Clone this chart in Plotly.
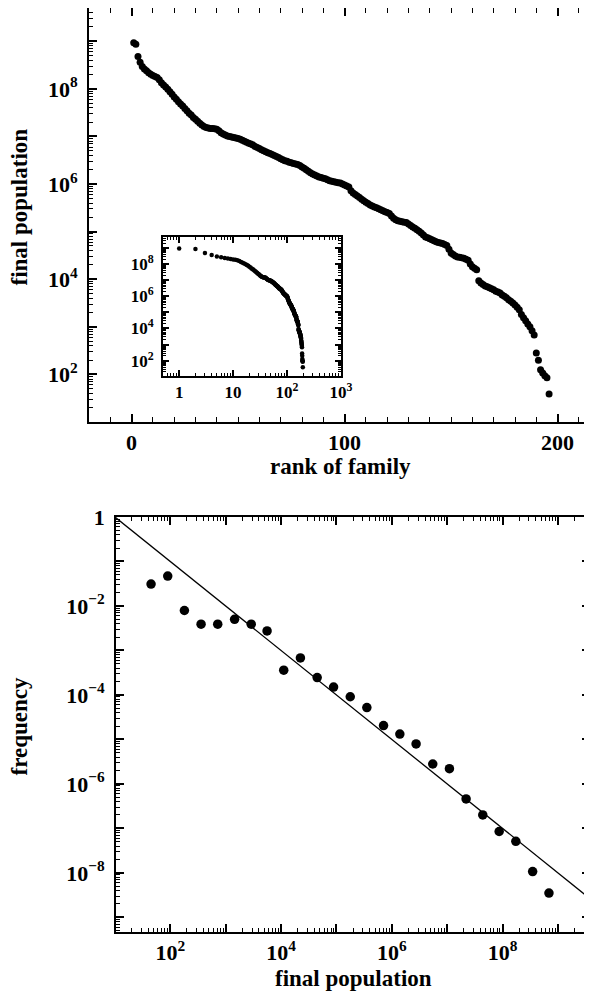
import plotly.graph_objects as go

# ---------------- data ----------------
# top panel: final population of each family (log10 values) vs rank
rank = list(range(1, 197))
final_pop_log10 = [
    8.97, 8.94, 8.68, 8.56, 8.47, 8.42, 8.38, 8.34, 8.31, 8.28,
    8.26, 8.24, 8.19, 8.13, 8.08, 8.04, 7.99, 7.94, 7.89, 7.83,
    7.78, 7.73, 7.68, 7.64, 7.59, 7.54, 7.49, 7.45, 7.40, 7.36,
    7.32, 7.28, 7.24, 7.21, 7.19, 7.18, 7.17, 7.17, 7.16, 7.15,
    7.12, 7.08, 7.05, 7.03, 7.01, 7.00, 6.99, 6.98, 6.97, 6.96,
    6.94, 6.92, 6.90, 6.88, 6.86, 6.84, 6.82, 6.79, 6.77, 6.75,
    6.72, 6.70, 6.68, 6.66, 6.64, 6.62, 6.60, 6.58, 6.56, 6.53,
    6.51, 6.49, 6.48, 6.46, 6.45, 6.43, 6.42, 6.41, 6.39, 6.36,
    6.33, 6.30, 6.27, 6.24, 6.21, 6.19, 6.17, 6.15, 6.14, 6.12,
    6.11, 6.09, 6.07, 6.06, 6.05, 6.04, 6.03, 6.02, 6.00, 5.98,
    5.96, 5.94, 5.86, 5.81, 5.78, 5.75, 5.72, 5.68, 5.65, 5.62,
    5.59, 5.56, 5.54, 5.52, 5.50, 5.48, 5.46, 5.44, 5.42, 5.40,
    5.38, 5.33, 5.28, 5.25, 5.23, 5.22, 5.21, 5.20, 5.19, 5.16,
    5.13, 5.10, 5.07, 5.04, 5.01, 4.97, 4.93, 4.89, 4.87, 4.85,
    4.83, 4.81, 4.79, 4.77, 4.76, 4.75, 4.73, 4.71, 4.63, 4.55,
    4.52, 4.49, 4.47, 4.46, 4.45, 4.44, 4.42, 4.40, 4.32, 4.26,
    4.23, 4.20, 3.97, 3.92, 3.89, 3.86, 3.84, 3.82, 3.80, 3.78,
    3.75, 3.73, 3.71, 3.67, 3.64, 3.61, 3.57, 3.54, 3.50, 3.46,
    3.41, 3.36, 3.26, 3.19, 3.13, 3.06, 3.00, 2.92, 2.83, 2.45,
    2.30, 2.10, 2.03, 1.97, 1.93, 1.59,
]
final_pop = [10 ** v for v in final_pop_log10]

# bottom panel: histogram of final population (log-binned)
hist_pop = [45, 90, 180, 360, 720, 1450, 2900, 5600, 11200, 22400,
            45000, 89000, 178000, 355000, 710000, 1.4e6, 2.75e6, 5.5e6,
            1.1e7, 2.2e7, 4.4e7, 8.7e7, 1.74e8, 3.5e8, 6.9e8]
hist_freq = [3.1e-2, 4.7e-2, 7.9e-3, 3.9e-3, 3.9e-3, 5.0e-3, 3.9e-3, 2.75e-3,
             3.6e-4, 6.8e-4, 2.45e-4, 1.5e-4, 9.1e-5, 5.2e-5, 2.05e-5,
             1.32e-5, 7.9e-6, 2.8e-6, 2.2e-6, 4.6e-7, 2.0e-7, 8.5e-8,
             5.1e-8, 1.07e-8, 3.5e-9]

# power-law guide line, exponent -1
fit_pop = [10, 4e9]
fit_freq = [1, 2.5e-9]

# labelled ticks
top_x_vals = [0, 100, 200]
top_y_vals = [1e2, 1e4, 1e6, 1e8]
top_y_text = ["10<sup>2</sup>", "10<sup>4</sup>", "10<sup>6</sup>", "10<sup>8</sup>"]
inset_x_vals = [1, 10, 100, 1000]
inset_x_text = ["1", "10", "10<sup>2</sup>", "10<sup>3</sup>"]
inset_y_vals = [1e2, 1e4, 1e6, 1e8]
inset_y_text = ["10<sup>2</sup>", "10<sup>4</sup>", "10<sup>6</sup>", "10<sup>8</sup>"]
bot_x_vals = [1e2, 1e4, 1e6, 1e8]
bot_x_text = ["10<sup>2</sup>", "10<sup>4</sup>", "10<sup>6</sup>", "10<sup>8</sup>"]
bot_y_vals = [1, 1e-2, 1e-4, 1e-6, 1e-8]
bot_y_text = ["1", "10<sup>−2</sup>", "10<sup>−4</sup>", "10<sup>−6</sup>", "10<sup>−8</sup>"]
# unlabelled full-length ticks (odd decades)
top_y_odd = [1e1, 1e3, 1e5, 1e7, 1e9]
inset_y_odd = [1e3, 1e5, 1e7, 1e9]
bot_x_odd = [1e1, 1e3, 1e5, 1e7, 1e9]
bot_y_odd = [1e-1, 1e-3, 1e-5, 1e-7, 1e-9]


def log_minor(k0, k1):
    """minor tick positions 2..9 x 10^k for k0 <= k < k1"""
    return [m * 10.0 ** k for k in range(k0, k1) for m in range(2, 10)]


# ---------------- figure ----------------
W, H = 592, 993
OFF = 8  # page body margin
FONT = "Liberation Serif, Times New Roman, serif"

fig = go.Figure()
fig.add_trace(go.Scatter(x=rank, y=final_pop, mode="markers",
                         marker=dict(color="black", size=7),
                         xaxis="x", yaxis="y", showlegend=False))
fig.add_trace(go.Scatter(x=rank, y=final_pop, mode="markers",
                         marker=dict(color="black", size=4.5),
                         xaxis="x3", yaxis="y3", showlegend=False))
fig.add_trace(go.Scatter(x=fit_pop, y=fit_freq, mode="lines",
                         line=dict(color="black", width=1.3),
                         xaxis="x2", yaxis="y2", showlegend=False))
fig.add_trace(go.Scatter(x=hist_pop, y=hist_freq, mode="markers",
                         marker=dict(color="black", size=9.5),
                         xaxis="x2", yaxis="y2", showlegend=False))
# empty traces so that the tick-only overlay axes get subplots
for xa, ya in [("x4", "y"), ("x", "y4"), ("x5", "y3"), ("x3", "y5"), ("x6", "y2"), ("x2", "y6"),
               ("x", "y7"), ("x3", "y8"), ("x7", "y2"), ("x2", "y9")]:
    fig.add_trace(go.Scatter(x=[], y=[], mode="markers", xaxis=xa, yaxis=ya,
                             showlegend=False, hoverinfo="skip"))


def px_x(p):
    return (p - OFF) / W


def px_y(p):
    return 1 - (p - OFF) / H


tickfont = dict(family=FONT, size=22, color="black", weight="bold")
insetfont = dict(family=FONT, size=17, color="black", weight="bold")
common = dict(showgrid=False, zeroline=False, showline=True, linecolor="black",
              linewidth=1.8, ticks="inside", tickcolor="black", tickwidth=1.6)

# top x range: page px 89 -> -20, 2.13 px per unit
x_left = -20
x_right = x_left + (W + OFF - 89) / 2.13
top_yr, ins_xr, ins_yr = [1.0, 9.7], [-0.3, 3.0], [1.05, 9.68]
bot_xr, bot_yr = [1.02, 9.58], [-9.33, 0]

# geometry of the three panels
top_xd, top_yd = [px_x(89), 1], [px_y(422), px_y(8)]
ins_xd, ins_yd = [px_x(163), px_x(341)], [px_y(376), px_y(237)]
bot_xd, bot_yd = [px_x(116), px_x(590)], [px_y(932), px_y(517)]

fig.update_layout(
    width=W, height=H, margin=dict(l=0, r=0, t=0, b=0),
    paper_bgcolor="white", plot_bgcolor="white",
    xaxis=dict(domain=top_xd, range=[x_left, x_right], anchor="y",
               tickmode="array", tickvals=top_x_vals, ticklen=8,
               mirror="ticks", tickfont=tickfont, automargin=False, **common),
    yaxis=dict(domain=top_yd, type="log", range=top_yr, anchor="x",
               tickmode="array", tickvals=top_y_vals, ticktext=top_y_text, ticklen=8,
               mirror=False, tickfont=tickfont, ticklabelstandoff=5, automargin=False, **common),
    xaxis3=dict(domain=ins_xd, type="log", range=ins_xr, anchor="y3",
                tickmode="array", tickvals=inset_x_vals, ticktext=inset_x_text, ticklen=6,
                mirror="ticks", tickfont=insetfont, automargin=False, **common),
    yaxis3=dict(domain=ins_yd, type="log", range=ins_yr, anchor="x3",
                tickmode="array", tickvals=inset_y_vals, ticktext=inset_y_text, ticklen=6,
                mirror="ticks", tickfont=insetfont, ticklabelstandoff=4, automargin=False, **common),
    xaxis2=dict(domain=bot_xd, type="log", range=bot_xr, anchor="y2",
                tickmode="array", tickvals=bot_x_vals, ticktext=bot_x_text, ticklen=8,
                mirror="ticks", tickfont=tickfont, automargin=False, **common),
    yaxis2=dict(domain=bot_yd, type="log", range=bot_yr, anchor="x2",
                tickmode="array", tickvals=bot_y_vals, ticktext=bot_y_text, ticklen=8,
                mirror="ticks", tickfont=tickfont, ticklabelstandoff=5, automargin=False, **common),
)


# tick-only overlay axes (minor ticks and unlabelled decade ticks)
def tick_axis(base, partner, domain, typ, rng, vals, ln, mirror, width=1.4):
    return dict(overlaying=base, anchor=partner, domain=domain, type=typ, range=rng,
                tickmode="array", tickvals=vals, ticks="inside", ticklen=ln,
                tickwidth=width, tickcolor="black", showticklabels=False,
                showgrid=False, zeroline=False, showline=True, linecolor="black",
                linewidth=1.8, mirror=mirror, automargin=False)


fig.update_layout(
    xaxis4=tick_axis("x", "y", top_xd, "linear", [x_left, x_right],
                     list(range(-10, 220, 10)), 5, "ticks"),
    yaxis4=tick_axis("y", "x", top_yd, "log", top_yr, log_minor(1, 10), 4.5, False),
    xaxis5=tick_axis("x3", "y3", ins_xd, "log", ins_xr, log_minor(-1, 3), 3.5, "ticks"),
    yaxis5=tick_axis("y3", "x3", ins_yd, "log", ins_yr, log_minor(1, 10), 3.5, "ticks"),
    xaxis6=tick_axis("x2", "y2", bot_xd, "log", bot_xr, log_minor(1, 10), 4.5, "ticks"),
    yaxis6=tick_axis("y2", "x2", bot_yd, "log", bot_yr, log_minor(-10, 0), 4.5, "ticks"),
    yaxis7=tick_axis("y", "x", top_yd, "log", top_yr, top_y_odd, 8, False, 1.6),
    yaxis8=tick_axis("y3", "x3", ins_yd, "log", ins_yr, inset_y_odd, 6, "ticks", 1.6),
    xaxis7=tick_axis("x2", "y2", bot_xd, "log", bot_xr, bot_x_odd, 8, "ticks", 1.6),
    yaxis9=tick_axis("y2", "x2", bot_yd, "log", bot_yr, bot_y_odd, 8, "ticks", 1.6),
)

titlefont = dict(family=FONT, size=23, color="black", weight="bold")
annots = [
    dict(text="final population", x=px_x(18.5), y=px_y(207), textangle=-90),
    dict(text="rank of family", x=px_x(340), y=px_y(466), textangle=0),
    dict(text="frequency", x=px_x(18.5), y=px_y(727), textangle=-90),
    dict(text="final population", x=px_x(353), y=px_y(978), textangle=0),
]
for a in annots:
    fig.add_annotation(xref="paper", yref="paper", showarrow=False,
                       xanchor="center", yanchor="middle", font=titlefont, **a)

fig.write_html("out.html")
